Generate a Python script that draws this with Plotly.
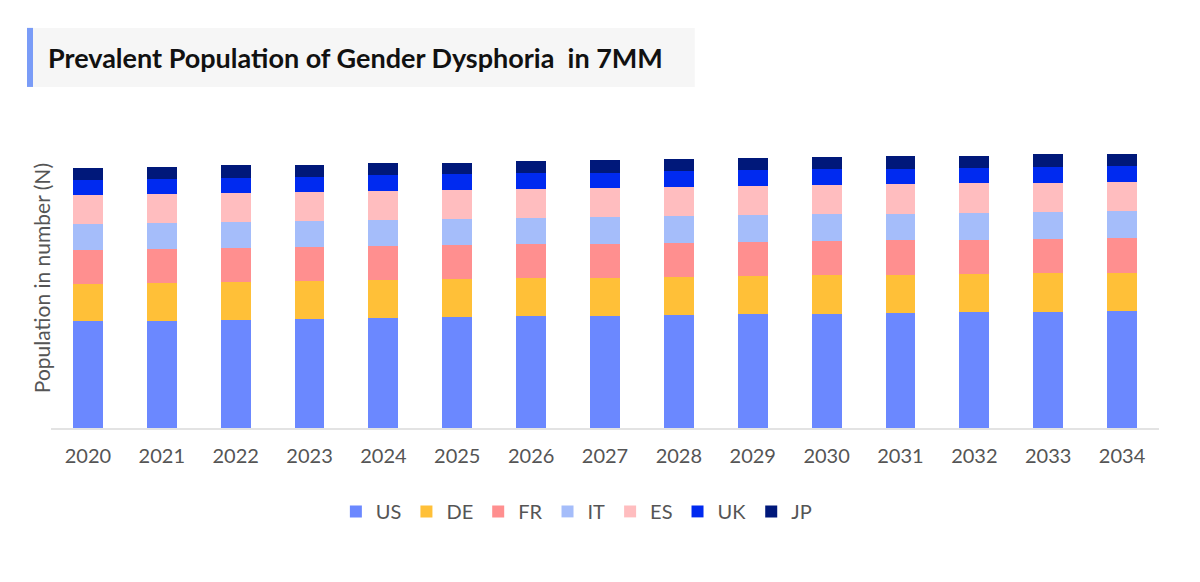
from plotly import graph_objs as go

years = [str(y) for y in range(2020, 2035)]

us = [10670, 10700, 10800, 10870, 10970, 11040, 11140, 11200, 11270, 11370, 11400, 11470, 11540, 11600, 11670]
de = [3730, 3800, 3800, 3800, 3800, 3800, 3800, 3800, 3800, 3800, 3840, 3830, 3830, 3840, 3800]
fr = [3400, 3370, 3370, 3370, 3370, 3400, 3400, 3400, 3430, 3430, 3460, 3440, 3430, 3430, 3530]
it = [2600, 2600, 2630, 2660, 2660, 2630, 2660, 2640, 2640, 2640, 2640, 2660, 2670, 2700, 2670]
es = [2900, 2930, 2900, 2900, 2900, 2930, 2900, 2930, 2930, 2960, 2930, 2940, 2970, 2930, 2930]
uk = [1500, 1470, 1500, 1500, 1540, 1540, 1570, 1530, 1570, 1540, 1570, 1560, 1560, 1600, 1600]
jp = [1140, 1230, 1240, 1200, 1200, 1160, 1170, 1240, 1200, 1200, 1200, 1240, 1200, 1240, 1200]

series = [
    ("US", us, "#6b88ff"),
    ("DE", de, "#ffc038"),
    ("FR", fr, "#ff8f8f"),
    ("IT", it, "#a5bdfa"),
    ("ES", es, "#ffbdbf"),
    ("UK", uk, "#002af0"),
    ("JP", jp, "#00187a"),
]

# the page body adds an 8px margin, so target pixels are shifted by it
OFF = 8
L, R, T, B = 51 - OFF, 1159.5 - OFF, 140 - OFF, 427.7 - OFF


def px_x(x):
    return (x - OFF - L) / (R - L)


def px_y(y):
    return (B - (y - OFF)) / (B - T)


data = []
for name, values, color in series:
    data.append(go.Bar(
        x=years,
        y=values,
        name=name,
        marker={"color": color, "line": {"width": 0}},
    ))

layout = go.Layout(
    width=1200,
    height=582,
    barmode="stack",
    bargap=0.595,
    paper_bgcolor="white",
    plot_bgcolor="white",
    font={"family": "Lato", "color": "#555555"},
    margin={"l": L, "r": 1200 - R, "t": T, "b": 582 - B},
    xaxis={
        "showline": True,
        "linecolor": "#e3e3e3",
        "linewidth": 1.5,
        "ticks": "",
        "ticklabelstandoff": 9,
        "tickfont": {"size": 20, "color": "#555555"},
        "showgrid": False,
    },
    yaxis={
        "range": [0, (B - T) * 100],
        "showticklabels": False,
        "showgrid": False,
        "zeroline": False,
        "showline": False,
    },
    showlegend=True,
    legend={
        "orientation": "h",
        "x": px_x(336),
        "xanchor": "left",
        "y": px_y(511),
        "yanchor": "middle",
        "font": {"size": 20, "color": "#555555"},
        "traceorder": "normal",
    },
    shapes=[
        {"type": "rect", "xref": "paper", "yref": "paper",
         "x0": px_x(28), "x1": px_x(695), "y0": px_y(87), "y1": px_y(28),
         "fillcolor": "#f6f6f6", "line": {"width": 0}, "layer": "below"},
        {"type": "rect", "xref": "paper", "yref": "paper",
         "x0": px_x(27), "x1": px_x(33), "y0": px_y(87), "y1": px_y(28),
         "fillcolor": "#7a9cf7", "line": {"width": 0}},
    ],
    annotations=[
        {"text": "<b>Prevalent Population of Gender Dysphoria  in 7MM</b>",
         "xref": "paper", "yref": "paper", "x": px_x(46), "y": px_y(58),
         "xanchor": "left", "yanchor": "middle", "showarrow": False,
         "font": {"size": 27, "color": "#111111", "family": "Lato"}},
        {"text": "Population in number (N)",
         "xref": "paper", "yref": "paper", "x": px_x(41), "y": px_y(278),
         "xanchor": "center", "yanchor": "middle", "showarrow": False,
         "textangle": -90,
         "font": {"size": 21, "color": "#555555", "family": "Lato"}},
    ],
)

fig = go.Figure(data=data, layout=layout)
fig.write_html("out.html")
